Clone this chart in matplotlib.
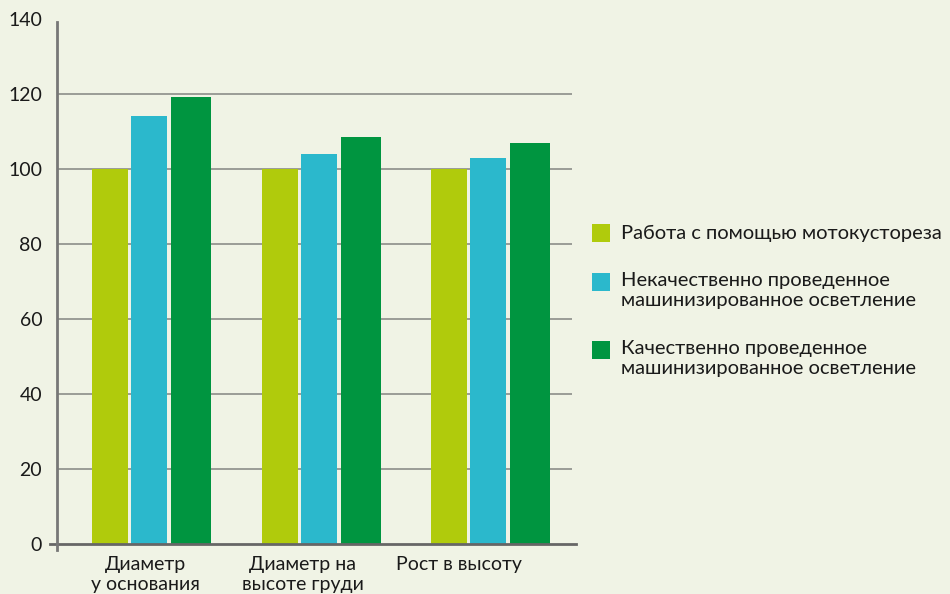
import numpy as np
import matplotlib
matplotlib.use("Agg")
import matplotlib.pyplot as plt
from matplotlib.lines import Line2D
from matplotlib.patches import Rectangle

# data
categories = ["Диаметр\nу основания", "Диаметр на\nвысоте груди", "Рост в высоту"]
series_names = ["Работа с помощью мотокустореза",
                "Некачественно проведенное\nмашинизированное осветление",
                "Качественно проведенное\nмашинизированное осветление"]
motor = [100, 100, 100]
bad_mech = [114, 104, 103]
good_mech = [119.3, 108.6, 107]
yticks = [0, 20, 40, 60, 80, 100, 120, 140]

colors = ["#b0cb0c", "#2bb8cc", "#009540"]
bg = "#f0f3e5"
txt = "#1a1a1a"

plt.rcParams["font.family"] = ["Lato", "DejaVu Sans"]

W, H = 950, 594
fig = plt.figure(figsize=(W / 100, H / 100), dpi=100, facecolor=bg)
ax = fig.add_axes([0.0605, 0.0842, 0.5416, 0.884])
ax.set_facecolor(bg)

x = np.arange(len(categories))
offsets = [-0.245, -0.015, 0.233]
widths = [0.212, 0.212, 0.236]
for vals, off, w, c in zip([motor, bad_mech, good_mech], offsets, widths, colors):
    ax.bar(x + off, vals, width=w, color=c, zorder=3)

ax.set_xlim(-0.555, 2.48)
ax.set_ylim(0, 140)
ax.set_yticks(yticks)
ax.set_yticklabels([str(t) for t in yticks], fontsize=14, color=txt)
ax.tick_params(axis="y", length=0, pad=11)
# labels in the original sit a bit left of the bar groups
label_shift = [-0.035, -0.11, -0.186]
ax.set_xticks(x + np.array(label_shift))
ax.set_xticklabels(categories, fontsize=14, color=txt, linespacing=1.2)
ax.tick_params(axis="x", length=0, pad=9)

for t in yticks[1:-1]:
    ax.axhline(t, color="#9a9c96", lw=1.4, zorder=1)

for s in ax.spines.values():
    s.set_visible(False)
# axis lines, slightly overshooting like the original
ax.add_line(Line2D([-0.014, 1.007], [0, 0], transform=ax.transAxes,
                   color="#666666", lw=2, clip_on=False, zorder=4))
ax.add_line(Line2D([0, 0], [-0.012, 0.994], transform=ax.transAxes,
                   color="#777777", lw=2, clip_on=False, zorder=4))

# legend drawn by hand (square aligned with first text line)
sq_top = [224, 273, 341]
txt_mid = [233, 290.5, 358.5]
for name, c, st, tm in zip(series_names, colors, sq_top, txt_mid):
    fig.add_artist(Rectangle((592 / W, 1 - (st + 18) / H), 18 / W, 18 / H,
                             transform=fig.transFigure, facecolor=c, edgecolor="none"))
    fig.text(621 / W, 1 - tm / H, name, fontsize=14.5, color=txt,
             va="center", ha="left", linespacing=1.15)

fig.savefig("out.png", dpi=100, facecolor=bg)
